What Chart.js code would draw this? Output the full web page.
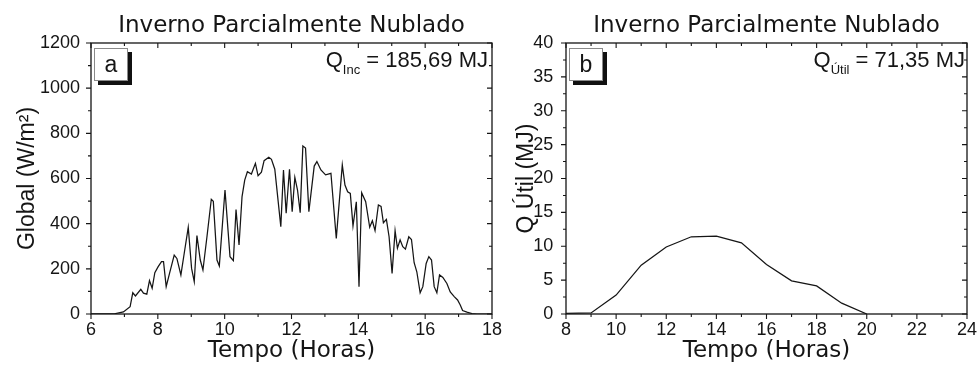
<!DOCTYPE html>
<html><head><meta charset="utf-8">
<script src="https://cdn.jsdelivr.net/npm/chart.js@4"></script>
<style>
html,body{margin:0;padding:0;background:#fff;width:979px;height:367px;overflow:hidden;position:relative}
canvas{position:absolute;top:0}
#ca{left:0}
#cb{left:500px}
</style></head><body>
<canvas id="ca" width="520" height="367"></canvas>
<canvas id="cb" width="500" height="367"></canvas>
<script>
// ---- data ----
const titleText = 'Inverno Parcialmente Nublado';
const hoursA = [6.0,6.7,6.97,7.17,7.25,7.33,7.49,7.57,7.67,7.75,7.83,7.91,8.01,8.11,8.17,8.25,8.35,8.49,8.57,8.69,8.79,8.91,9.01,9.09,9.17,9.27,9.35,9.47,9.60,9.66,9.77,9.84,10.01,10.16,10.26,10.34,10.43,10.52,10.60,10.68,10.80,10.92,11.00,11.10,11.18,11.32,11.40,11.50,11.68,11.76,11.84,11.94,12.02,12.10,12.18,12.26,12.34,12.42,12.52,12.68,12.76,12.88,13.02,13.18,13.34,13.52,13.60,13.68,13.76,13.84,13.94,14.02,14.10,14.22,14.34,14.42,14.50,14.60,14.68,14.75,14.84,14.92,15.01,15.10,15.17,15.25,15.33,15.41,15.51,15.59,15.67,15.75,15.85,15.93,16.03,16.11,16.19,16.27,16.35,16.43,16.53,16.65,16.75,16.87,16.97,17.05,17.12,17.25,17.40,17.55,18.0];
const globalA = [0,1,9,32,94,80,109,92,88,148,114,183,210,232,232,121,180,261,246,173,269,384,202,143,347,239,195,342,508,499,239,213,549,254,236,463,306,520,593,630,620,667,612,628,679,694,685,641,387,638,446,641,453,605,549,449,744,735,453,655,675,638,616,623,335,660,571,541,534,390,497,121,537,497,384,413,369,483,476,404,419,342,180,369,291,328,298,287,342,330,227,187,94,121,224,254,239,121,94,173,162,135,98,77,62,40,15,8,2,0,0];
const hoursB = [8,9,10,11,12,13,14,15,16,17,18,19,20];
const qUtilB = [0.1,0.15,2.8,7.2,9.9,11.4,11.5,10.5,7.3,4.9,4.15,1.6,0];
const xTickLabelsA = [6,8,10,12,14,16,18];
const yTickLabelsA = [0,200,400,600,800,1000,1200];
const xTickLabelsB = [8,10,12,14,16,18,20,22,24];
const yTickLabelsB = [0,5,10,15,20,25,30,35,40];
const panelA = 'a', panelB = 'b';
const qSubA = 'Inc', qRestA = ' = 185,69 MJ';
const qSubB = 'Útil', qRestB = ' = 71,35 MJ';

// ---- helpers ----
const INK = '#151515';
const FONT = 'DejaVu Sans';
const SANS = 'Liberation Sans';
function withMinor(labels){
  return scale => {
    const t = [];
    for (let i = 0; i < labels.length; i++) {
      t.push({value: labels[i]});
      if (i < labels.length - 1) t.push({value: (labels[i] + labels[i+1]) / 2});
    }
    scale.ticks = t;
  };
}
function labelCb(labels){ return v => labels.includes(v) ? String(v) : ''; }

const framePlugin = {
  id: 'frame',
  afterDatasetsDraw(chart, args, o){
    const {ctx, chartArea:{left,right,top,bottom}} = chart;
    const xs = chart.scales.x, ys = chart.scales.y;
    ctx.save();
    ctx.strokeStyle = INK; ctx.lineWidth = 1.3;
    ctx.strokeRect(left, top, right-left, bottom-top);
    ctx.lineWidth = 1.1;
    ctx.beginPath();
    xs.ticks.forEach(t => {
      const p = xs.getPixelForValue(t.value);
      const L = o.xMajor.includes(t.value) ? 5 : 3;
      ctx.moveTo(p, bottom); ctx.lineTo(p, bottom + L);
      ctx.moveTo(p, top); ctx.lineTo(p, top + L);
    });
    ys.ticks.forEach(t => {
      const p = ys.getPixelForValue(t.value);
      const L = o.yMajor.includes(t.value) ? 5 : 3;
      ctx.moveTo(left - L, p); ctx.lineTo(left, p);
      ctx.moveTo(right, p); ctx.lineTo(right - L, p);
    });
    ctx.stroke();
    // panel label box with shadow
    const bx = left + 3, by = top + 5, bw = 34, bh = 33;
    ctx.fillStyle = '#111'; ctx.fillRect(bx + 4, by + 4, bw, bh);
    ctx.fillStyle = '#fff'; ctx.fillRect(bx, by, bw, bh);
    ctx.strokeStyle = '#8a8a8a'; ctx.lineWidth = 1; ctx.strokeRect(bx + 0.5, by + 0.5, bw - 1, bh - 1);
    ctx.fillStyle = INK; ctx.font = '23px "' + SANS + '"';
    ctx.textAlign = 'center'; ctx.textBaseline = 'middle';
    ctx.fillText(o.panel, bx + bw/2, by + bh/2 + 1);
    // Q annotation
    ctx.textAlign = 'left'; ctx.textBaseline = 'alphabetic';
    const big = '22px "' + SANS + '"', small = '13px "' + SANS + '"';
    ctx.font = big; const wQ = ctx.measureText('Q').width, wR = ctx.measureText(o.rest).width;
    ctx.font = small; const wS = ctx.measureText(o.sub).width;
    let x = right - o.qRight - (wQ + wS + wR);
    const base = top + 24;
    ctx.font = big; ctx.fillText('Q', x, base); x += wQ;
    ctx.font = small; ctx.fillText(o.sub, x, base + 6.5); x += wS;
    ctx.font = big; ctx.fillText(o.rest, x, base);
    ctx.restore();
  }
};

function makeChart(id, xs, ys, xLab, yLab, yTitle, yTitlePad, yAxisW, yTickPad, padRight, frameOpts){
  return new Chart(document.getElementById(id), {
    type: 'line',
    data: { datasets: [{
      data: xs.map((h, i) => ({x: h, y: ys[i]})),
      borderColor: INK, borderWidth: 1.25, pointRadius: 0, tension: 0, fill: false
    }]},
    options: {
      responsive: false, animation: false, devicePixelRatio: 1,
      layout: { padding: { left: 0, right: padRight, top: 0, bottom: 0 } },
      plugins: {
        legend: { display: false }, tooltip: { enabled: false },
        title: { display: true, text: titleText, fullSize: false, color: INK,
          font: { family: FONT, size: 23, weight: 'normal', lineHeight: 1.2 },
          padding: { top: 12.5, bottom: 2.9 } },
        frame: frameOpts
      },
      scales: {
        x: {
          type: 'linear', min: xLab[0], max: xLab[xLab.length-1],
          afterBuildTicks: withMinor(xLab),
          afterFit: s => { s.height = 53; },
          grid: { display: false, drawTicks: false }, border: { display: false },
          ticks: { autoSkip: false, maxRotation: 0, padding: 5.7, color: INK,
            font: { family: SANS, size: 18 }, callback: labelCb(xLab) },
          title: { display: true, text: 'Tempo (Horas)', color: INK,
            font: { family: FONT, size: 23, lineHeight: 1.2 }, padding: { top: 0, bottom: 2 } }
        },
        y: {
          type: 'linear', min: yLab[0], max: yLab[yLab.length-1],
          afterBuildTicks: withMinor(yLab),
          afterFit: s => { s.width = yAxisW; },
          grid: { display: false, drawTicks: false }, border: { display: false },
          ticks: { autoSkip: false, padding: yTickPad, color: INK,
            font: { family: SANS, size: 18 }, callback: labelCb(yLab) },
          title: { display: true, text: yTitle, color: INK,
            font: { family: SANS, size: 23, lineHeight: 1.2 }, padding: { top: yTitlePad, bottom: 0 } }
        }
      }
    },
    plugins: [framePlugin]
  });
}

makeChart('ca', hoursA, globalA, xTickLabelsA, yTickLabelsA, 'Global (W/m²)', 14.2, 91, 11, 28,
  { xMajor: xTickLabelsA, yMajor: yTickLabelsA, panel: panelA, sub: qSubA, rest: qRestA, qRight: 4 });
makeChart('cb', hoursB, qUtilB, xTickLabelsB, yTickLabelsB, 'Q Útil (MJ)', 13.2, 66, 12.7, 33,
  { xMajor: xTickLabelsB, yMajor: yTickLabelsB, panel: panelB, sub: qSubB, rest: qRestB, qRight: 2 });
</script>
</body></html>
